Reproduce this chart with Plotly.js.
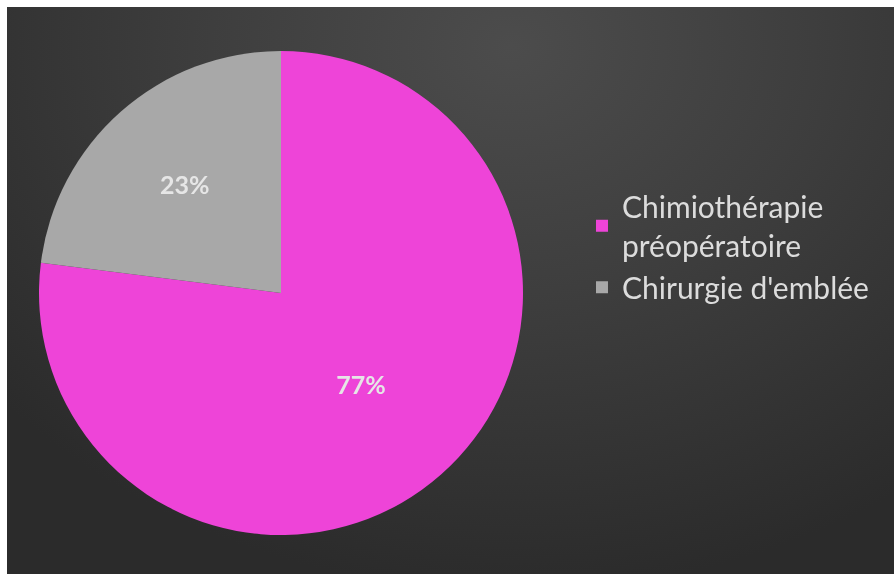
<!DOCTYPE html>
<html>
<head>
<meta charset="utf-8">
<script src="https://cdn.plot.ly/plotly-3.0.1.min.js"></script>
<style>
  html, body { margin: 0; padding: 0; background: #ffffff; overflow: hidden; }
  #bg { position: fixed; left: 7px; top: 7px; width: 1200px; height: 900px;
        background: radial-gradient(ellipse 670px 545px at 505px 40px, #4c4c4c 0%, #3e3e3e 45%, #2b2b2b 100%); }
  #chart { position: absolute; left: 0; top: 0; width: 894px; height: 574px; }
</style>
</head>
<body>
<div id="bg"></div>
<div id="chart"></div>
<script>
const categories = ["Chimiothérapie<br>préopératoire", "Chirurgie d'emblée"];
const values = [77, 23];
const colors = ["#EE44D8", "#A8A8A8"];

const W = 894, H = 574;
const cx = 281, cy = 293, r = 242;

const trace = {
  type: "pie",
  labels: categories,
  values: values,
  sort: false,
  direction: "clockwise",
  rotation: 0,
  marker: { colors: colors, line: { width: 0 } },
  textinfo: "percent",
  texttemplate: "%{percent:.0%}",
  textposition: "inside",
  insidetextorientation: "horizontal",
  textfont: { family: "Lato, 'Open Sans', sans-serif", size: 25, color: "#E6E6E6", weight: "bold" },
  hoverinfo: "none",
  domain: { x: [(cx - r) / W, (cx + r) / W], y: [(H - cy - r) / H, (H - cy + r) / H] }
};

const layout = {
  width: W, height: H,
  margin: { l: 0, r: 0, t: 0, b: 0 },
  paper_bgcolor: "rgba(0,0,0,0)",
  plot_bgcolor: "rgba(0,0,0,0)",
  showlegend: true,
  legend: {
    x: 0.651, y: 0.686, xanchor: "left", yanchor: "top",
    font: { family: "Lato, 'Open Sans', sans-serif", size: 30, color: "#DCDCDC" },
    bgcolor: "rgba(0,0,0,0)",
    itemwidth: 30
  }
};

Plotly.newPlot("chart", [trace], layout, { displayModeBar: false, staticPlot: true });
</script>
</body>
</html>
